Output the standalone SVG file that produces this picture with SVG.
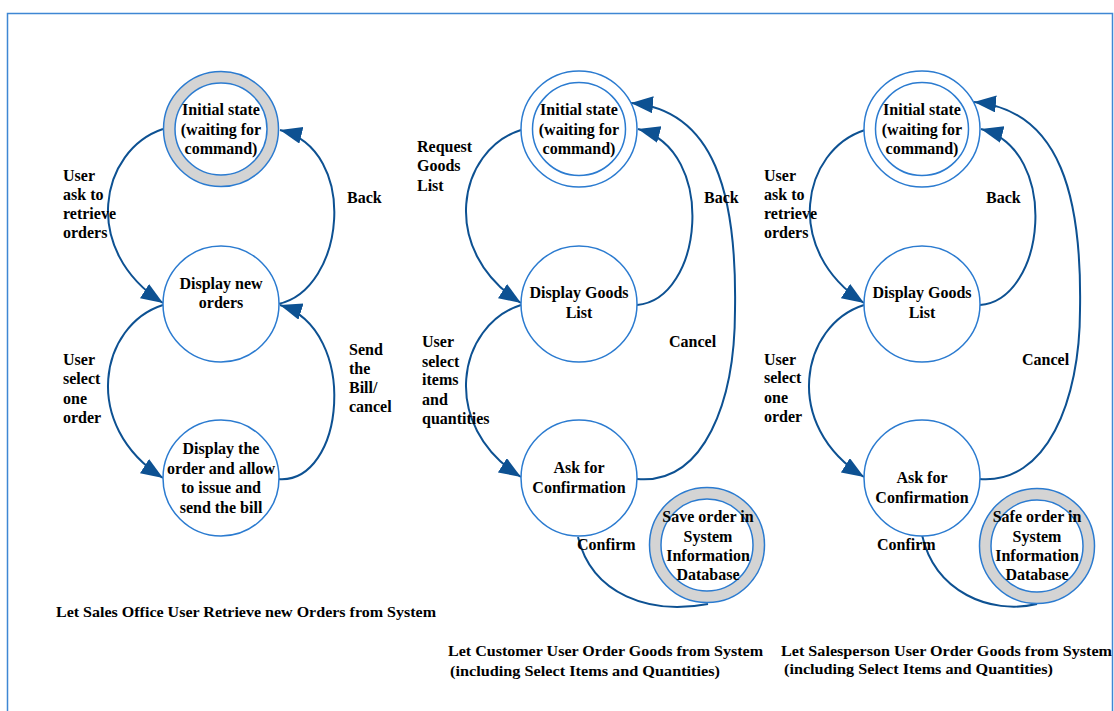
<svg xmlns="http://www.w3.org/2000/svg" width="1114" height="711" viewBox="0 0 1114 711">
<style>
.st{fill:#fff;stroke:#2B7BD0;stroke-width:1.5}
.ring{fill:#D4D4D4;stroke:#2B7BD0;stroke-width:1.5}
.nt{font-family:"Liberation Serif","Times New Roman",serif;font-weight:bold;font-size:16px;fill:#000;text-anchor:middle}
.lb{font-family:"Liberation Serif","Times New Roman",serif;font-weight:bold;font-size:16px;fill:#000}
.cap{font-family:"Liberation Serif","Times New Roman",serif;font-weight:bold;font-size:15px;fill:#000}
.cn{fill:none;stroke:#0D5192;stroke-width:2}
.arr{marker-end:url(#ah)}
</style>
<defs>
<marker id="ah" markerUnits="userSpaceOnUse" markerWidth="24" markerHeight="18" refX="22" refY="8.5" orient="auto">
<path d="M0,0 L22,8.5 L0,17 Z" fill="#0D5192"/>
</marker>
</defs>
<rect width="1114" height="711" fill="#fff"/>
<path d="M7.5,712 V13.5 H1112.5 V712" fill="none" stroke="#3F87D4" stroke-width="1.5"/>

<g id="connectors">
<!-- column 1 -->
<path class="cn arr" d="M163,129 C100,150 80,250 163,303"/>
<path class="cn arr" d="M278,304 C345,290 360,150 280,130"/>
<path class="cn arr" d="M163,305 C100,325 80,425 163,478"/>
<path class="cn arr" d="M278,479 C345,485 360,330 280,305"/>
<!-- column 2 -->
<path class="cn arr" d="M521,130 C458,150 438,250 521,303"/>
<path class="cn arr" d="M637,305 C703,300 718,150 638,129"/>
<path class="cn arr" d="M521,305 C458,325 438,425 521,477"/>
<path class="cn arr" d="M637,479 C705,485 735,400 735,310 C737,195 715,110 631,103"/>
<path class="cn" d="M578,537 C592,595 650,615 708,604"/>
<!-- column 3 -->
<path class="cn arr" d="M865,130 C802,150 782,250 864,303"/>
<path class="cn arr" d="M980,305 C1046,300 1061,150 981,129"/>
<path class="cn arr" d="M864,305 C801,325 781,425 864,477"/>
<path class="cn arr" d="M979,479 C1047,485 1080,400 1080,310 C1082,200 1062,110 974,102"/>
<path class="cn" d="M922,535 C935,592 990,615 1037,604"/>
</g>

<g id="edge-labels">
<text class="lb" x="63" y="181">User</text>
<text class="lb" x="63" y="200">ask to</text>
<text class="lb" x="63" y="219">retrieve</text>
<text class="lb" x="63" y="238">orders</text>
<text class="lb" x="347" y="203">Back</text>
<text class="lb" x="63" y="365">User</text>
<text class="lb" x="63" y="384">select</text>
<text class="lb" x="63" y="404">one</text>
<text class="lb" x="63" y="423">order</text>
<text class="lb" x="349" y="355">Send</text>
<text class="lb" x="349" y="374">the</text>
<text class="lb" x="349" y="393">Bill/</text>
<text class="lb" x="349" y="412">cancel</text>

<text class="lb" x="417" y="152">Request</text>
<text class="lb" x="417" y="171">Goods</text>
<text class="lb" x="417" y="191">List</text>
<text class="lb" x="704" y="203">Back</text>
<text class="lb" x="422" y="347">User</text>
<text class="lb" x="422" y="367">select</text>
<text class="lb" x="422" y="385">items</text>
<text class="lb" x="422" y="405">and</text>
<text class="lb" x="422" y="424">quantities</text>
<text class="lb" x="669" y="347">Cancel</text>
<text class="lb" x="577" y="550">Confirm</text>

<text class="lb" x="764" y="181">User</text>
<text class="lb" x="764" y="200">ask to</text>
<text class="lb" x="764" y="219">retrieve</text>
<text class="lb" x="764" y="238">orders</text>
<text class="lb" x="986" y="203">Back</text>
<text class="lb" x="764" y="365">User</text>
<text class="lb" x="764" y="383">select</text>
<text class="lb" x="764" y="403">one</text>
<text class="lb" x="764" y="422">order</text>
<text class="lb" x="1022" y="365">Cancel</text>
<text class="lb" x="877" y="550">Confirm</text>
</g>

<g id="c1-initial">
<circle class="ring" cx="221" cy="129" r="57.5"/>
<circle class="st" cx="221" cy="129" r="46"/>
<text class="nt" x="221" y="115">Initial state</text>
<text class="nt" x="221" y="135">(waiting for</text>
<text class="nt" x="221" y="154">command)</text>
</g>
<g id="c1-display-new-orders">
<circle class="st" cx="221" cy="304" r="58"/>
<text class="nt" x="221" y="289">Display new</text>
<text class="nt" x="221" y="308">orders</text>
</g>
<g id="c1-display-order">
<circle class="st" cx="221" cy="478" r="58"/>
<text class="nt" x="221" y="454">Display the</text>
<text class="nt" x="221" y="474">order and allow</text>
<text class="nt" x="221" y="493">to issue and</text>
<text class="nt" x="221" y="513">send the bill</text>
</g>

<g id="c2-initial">
<circle class="st" cx="579" cy="129" r="58"/>
<circle class="st" cx="579" cy="129" r="46.5"/>
<text class="nt" x="579" y="115">Initial state</text>
<text class="nt" x="579" y="135">(waiting for</text>
<text class="nt" x="579" y="154">command)</text>
</g>
<g id="c2-display-goods">
<circle class="st" cx="579" cy="304" r="58"/>
<text class="nt" x="579" y="298">Display Goods</text>
<text class="nt" x="579" y="318">List</text>
</g>
<g id="c2-ask-confirmation">
<circle class="st" cx="579" cy="478" r="58"/>
<text class="nt" x="579" y="473">Ask for</text>
<text class="nt" x="579" y="493">Confirmation</text>
</g>
<g id="c2-save-order">
<circle class="ring" cx="707" cy="545" r="57.5"/>
<circle class="st" cx="707" cy="545" r="46"/>
<text class="nt" x="708" y="522">Save order in</text>
<text class="nt" x="708" y="542">System</text>
<text class="nt" x="708" y="561">Information</text>
<text class="nt" x="708" y="580">Database</text>
</g>

<g id="c3-initial">
<circle class="st" cx="922" cy="129" r="58"/>
<circle class="st" cx="922" cy="129" r="46.5"/>
<text class="nt" x="922" y="115">Initial state</text>
<text class="nt" x="922" y="135">(waiting for</text>
<text class="nt" x="922" y="154">command)</text>
</g>
<g id="c3-display-goods">
<circle class="st" cx="922" cy="304" r="58"/>
<text class="nt" x="922" y="298">Display Goods</text>
<text class="nt" x="922" y="318">List</text>
</g>
<g id="c3-ask-confirmation">
<circle class="st" cx="922" cy="478" r="58"/>
<text class="nt" x="922" y="483">Ask for</text>
<text class="nt" x="922" y="503">Confirmation</text>
</g>
<g id="c3-safe-order">
<circle class="ring" cx="1037" cy="546" r="57.5"/>
<circle class="st" cx="1037" cy="546" r="46"/>
<text class="nt" x="1037" y="522">Safe order in</text>
<text class="nt" x="1037" y="542">System</text>
<text class="nt" x="1037" y="561">Information</text>
<text class="nt" x="1037" y="580">Database</text>
</g>

<g id="captions">
<text class="cap" x="56" y="617" textLength="380" lengthAdjust="spacingAndGlyphs">Let Sales Office User Retrieve new Orders from System</text>
<text class="cap" x="448" y="656" textLength="315" lengthAdjust="spacingAndGlyphs">Let Customer User Order Goods from System</text>
<text class="cap" x="450" y="676" textLength="270" lengthAdjust="spacingAndGlyphs">(including Select Items and Quantities)</text>
<text class="cap" x="781" y="656" textLength="331" lengthAdjust="spacingAndGlyphs">Let Salesperson User Order Goods from System</text>
<text class="cap" x="784" y="674" textLength="269" lengthAdjust="spacingAndGlyphs">(including Select Items and Quantities)</text>
</g>
</svg>
